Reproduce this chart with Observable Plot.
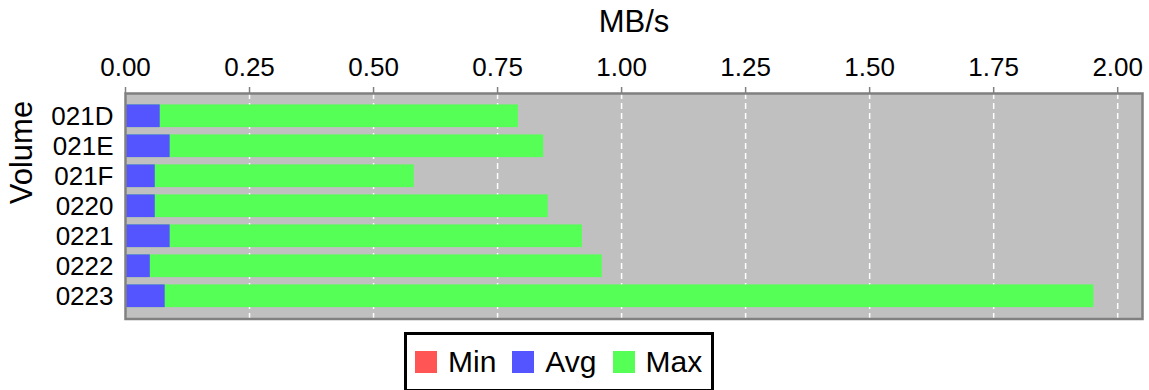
<!DOCTYPE html>
<html>
<head>
<meta charset="utf-8">
<script src="https://cdn.jsdelivr.net/npm/d3@7"></script>
<script src="https://cdn.jsdelivr.net/npm/@observablehq/plot@0.6"></script>
<style>
  html, body { margin: 0; padding: 0; background: #fff; }
  body { font-family: "Liberation Sans", Arial, sans-serif; width: 1149px; height: 390px; overflow: hidden; }
  #chart svg { display: block; }
  #legend { margin-left: 404px; margin-top: 2px; display: inline-flex; align-items: center;
            border: 3px solid #000; padding: 10px 9px 10px 8px; font-size: 30px; line-height: 34px; color: #000; }
  #legend .item { display: inline-flex; align-items: center; margin-right: 16px; }
  #legend .item:last-child { margin-right: 0; }
  #legend .sw { width: 22px; height: 22px; margin-right: 11px; }
</style>
</head>
<body>
<div id="chart"></div>
<div id="legend"></div>
<script>
const volumes = ["021D", "021E", "021F", "0220", "0221", "0222", "0223"];
const minVals = [0, 0, 0, 0, 0, 0, 0];
const avgVals = [0.070, 0.090, 0.060, 0.060, 0.090, 0.050, 0.080];
const maxVals = [0.792, 0.843, 0.582, 0.852, 0.921, 0.961, 1.952];
const xTicks = [0, 0.25, 0.5, 0.75, 1.0, 1.25, 1.5, 1.75, 2.0];
const seriesNames = ["Min", "Avg", "Max"];
const seriesColors = ["#ff5555", "#5555ff", "#55ff55"];

const rows = volumes.map((v, i) => ({volume: v, min: minVals[i], avg: avgVals[i], max: maxVals[i]}));

const chart = Plot.plot({
  width: 1149,
  height: 330,
  marginLeft: 125,
  marginRight: 7,
  marginTop: 93,
  marginBottom: 11.5,
  style: {fontFamily: "'Liberation Sans', Arial, sans-serif", fontSize: "26px", background: "white", color: "black"},
  x: {domain: [0, 2.05]},
  y: {domain: volumes, paddingInner: 0.243, paddingOuter: 0.38, round: false},
  marks: [
    Plot.frame({fill: "#c0c0c0"}),
    Plot.gridX(xTicks, {stroke: "white", strokeOpacity: 1, strokeWidth: 1.5, strokeDasharray: "6,4"}),
    Plot.barX(rows, {y: "volume", x: "max", fill: seriesColors[2]}),
    Plot.barX(rows, {y: "volume", x: "avg", fill: seriesColors[1]}),
    Plot.barX(rows, {y: "volume", x: "min", fill: seriesColors[0]}),
    Plot.frame({stroke: "#808080", strokeWidth: 2.5}),
    Plot.axisX(xTicks, {anchor: "top", tickFormat: ".2f", tickSize: 7, tickPadding: 11, stroke: "#808080", strokeWidth: 1.5, fill: "black", fontSize: 26, label: null}),
    Plot.axisY({tickSize: 0, tickPadding: 12, fontSize: 26, label: null, fill: "black"}),
    Plot.text(["MB/s"], {frameAnchor: "top", lineAnchor: "middle", dy: -71, fontSize: 31, fill: "black"}),
    Plot.text(["Volume"], {frameAnchor: "left", lineAnchor: "middle", dx: -103, dy: -2, rotate: -90, fontSize: 31, fill: "black"})
  ]
});
document.getElementById("chart").appendChild(chart);

const legend = document.getElementById("legend");
seriesNames.forEach((name, i) => {
  const item = document.createElement("span");
  item.className = "item";
  const sw = document.createElement("span");
  sw.className = "sw";
  sw.style.background = seriesColors[i];
  const label = document.createElement("span");
  label.textContent = name;
  item.appendChild(sw);
  item.appendChild(label);
  legend.appendChild(item);
});
</script>
</body>
</html>
